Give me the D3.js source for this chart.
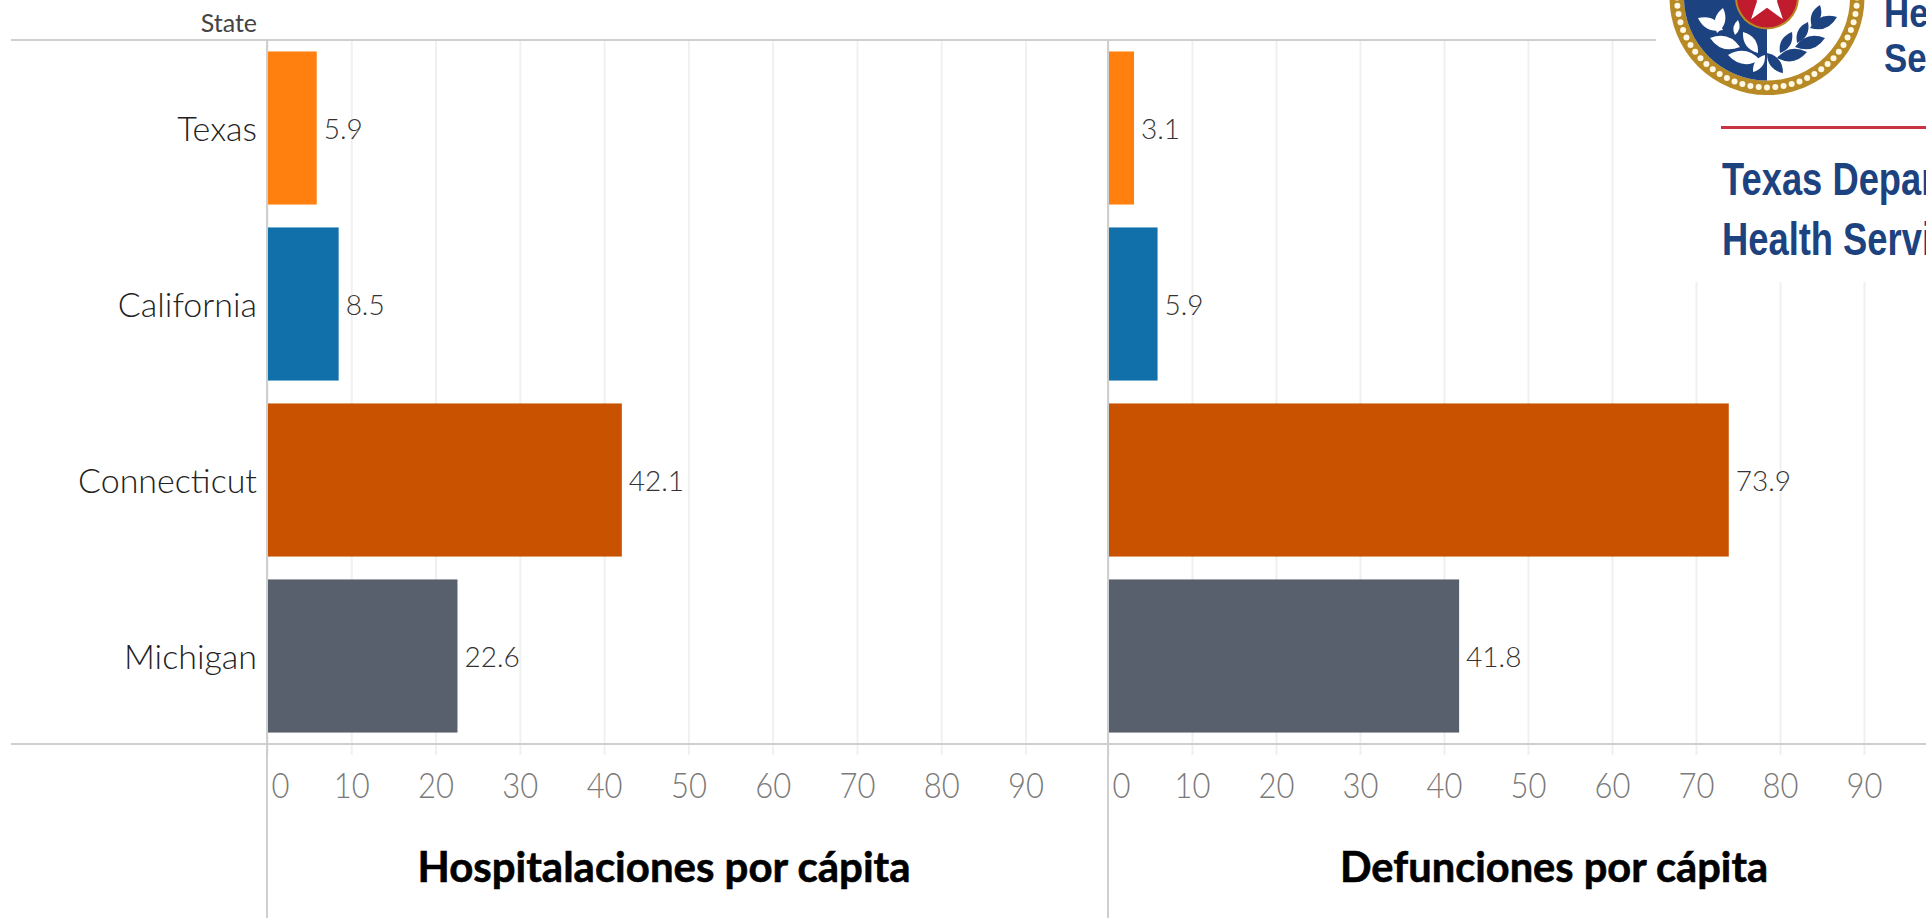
<!DOCTYPE html>
<html>
<head>
<meta charset="utf-8">
<script src="https://cdn.jsdelivr.net/npm/d3@7"></script>
<style>
  html, body { margin: 0; padding: 0; background: #fff; overflow: hidden; }
  svg { display: block; }
</style>
</head>
<body>
<div id="chart"></div>
<script>
const states = ['Texas', 'California', 'Connecticut', 'Michigan'];
const hospitalizations = [5.9, 8.5, 42.1, 22.6];
const deaths = [3.1, 5.9, 73.9, 41.8];
const stateColors = ['#ff800e', '#1170aa', '#c85200', '#57606c'];
const tickValues = [0, 10, 20, 30, 40, 50, 60, 70, 80, 90];

const width = 1926;
const height = 918;
const rowTop = 40;
const rowBottom = 744;
const lineColor = '#cfcfcf';
const lightFont = 'Lato, Roboto, sans-serif';

const svg = d3.select('#chart').append('svg')
  .attr('width', width)
  .attr('height', height);

const y = d3.scaleBand()
  .domain(states)
  .range([rowTop, rowBottom])
  .paddingInner(0.13)
  .paddingOuter(0.065);

// one pane per measure
const panes = [
  { values: hospitalizations, range: [267, 1025.5], title: 'Hospitalaciones por cápita', titleX: 664, titleWidth: 493 },
  { values: deaths, range: [1108, 1864], title: 'Defunciones por cápita', titleX: 1554, titleWidth: 428 }
];

panes.forEach(pane => {
  const x = d3.scaleLinear().domain([0, 90]).range(pane.range);
  const g = svg.append('g');

  // gridlines and tick labels
  const axis = g.append('g')
    .attr('transform', `translate(0,755)`)
    .call(d3.axisBottom(x).tickValues(tickValues).tickSize(-(755 - rowTop)));
  axis.select('.domain').remove();
  axis.selectAll('line')
    .attr('stroke', '#f0f0f0')
    .attr('stroke-width', 2);
  // tick digits in the reference are stretched upwards
  axis.selectAll('text')
    .attr('fill', '#7a7a7a')
    .style('font', `300 31px ${lightFont}`)
    .attr('transform', 'scale(1,1.15)')
    .attr('y', 37)
    .attr('dy', 0)
    .attr('dx', d => d === 0 ? 13 : 0);

  // zero line runs down to the page bottom
  g.append('line')
    .attr('x1', x(0)).attr('x2', x(0))
    .attr('y1', rowTop).attr('y2', height)
    .attr('stroke', lineColor)
    .attr('stroke-width', 2);

  // bars
  g.selectAll('.bar')
    .data(pane.values)
    .enter().append('rect')
    .attr('class', 'bar')
    .attr('x', x(0) + 1)
    .attr('y', (d, i) => y(states[i]))
    .attr('width', d => x(d) - x(0) - 1)
    .attr('height', y.bandwidth())
    .attr('fill', (d, i) => stateColors[i]);

  // value labels
  g.selectAll('.value')
    .data(pane.values)
    .enter().append('text')
    .attr('class', 'value')
    .attr('x', d => x(d) + 7)
    .attr('y', (d, i) => y(states[i]) + y.bandwidth() / 2 + 1)
    .attr('dy', '0.36em')
    .attr('fill', '#333')
    .style('font', `300 28px ${lightFont}`)
    .text(d => d.toFixed(1));

  // pane title
  g.append('text')
    .attr('x', pane.titleX)
    .attr('y', 882)
    .attr('text-anchor', 'middle')
    .attr('textLength', pane.titleWidth)
    .attr('lengthAdjust', 'spacingAndGlyphs')
    .attr('fill', '#000')
    .attr('stroke', '#000')
    .attr('stroke-width', 0.6)
    .style('font', '700 42px Lato, sans-serif')
    .text(pane.title);
});

// state labels
svg.append('g').selectAll('text')
  .data(states)
  .enter().append('text')
  .attr('x', 257)
  .attr('y', d => y(d) + y.bandwidth() / 2 + 1)
  .attr('dy', '0.36em')
  .attr('text-anchor', 'end')
  .attr('fill', '#222')
  .style('font', `300 34px ${lightFont}`)
  .text(d => d);

svg.append('text')
  .attr('x', 257)
  .attr('y', 32)
  .attr('text-anchor', 'end')
  .attr('fill', '#444')
  .style('font', `400 25px ${lightFont}`)
  .text('State');

// header and footer rules
svg.append('line')
  .attr('x1', 11).attr('x2', 1656)
  .attr('y1', rowTop).attr('y2', rowTop)
  .attr('stroke', lineColor).attr('stroke-width', 2);
svg.append('line')
  .attr('x1', 11).attr('x2', width)
  .attr('y1', rowBottom).attr('y2', rowBottom)
  .attr('stroke', lineColor).attr('stroke-width', 2);

/* logo pasted over the top right corner */
const logo = svg.append('g');
logo.append('rect')
  .attr('x', 1657).attr('y', 0)
  .attr('width', width - 1657).attr('height', 282)
  .attr('fill', '#fff');

const seal = { x: 1767, y: -2.5 };
const navy = '#1d4280';
const gold = '#b88a25';

logo.append('circle').attr('cx', seal.x).attr('cy', seal.y).attr('r', 97.5).attr('fill', gold);
logo.append('circle').attr('cx', seal.x).attr('cy', seal.y).attr('r', 83).attr('fill', '#fff');

// blue left half of the inner disc
logo.append('path')
  .attr('transform', `translate(${seal.x},${seal.y})`)
  .attr('d', d3.arc()({ innerRadius: 0, outerRadius: 83, startAngle: Math.PI, endAngle: 2 * Math.PI }))
  .attr('fill', navy);

// bead ring
logo.selectAll('.bead')
  .data(d3.range(0, 68))
  .enter().append('circle')
  .attr('class', 'bead')
  .attr('cx', d => seal.x + 90 * Math.cos(d * 2 * Math.PI / 68))
  .attr('cy', d => seal.y + 90 * Math.sin(d * 2 * Math.PI / 68))
  .attr('r', 3)
  .attr('fill', '#fff8e6');

// laurel leaves, as [x1, y1, x2, y2] tip to tip
const leftLeaves = [[1723, 30, 1698, 18], [1717, 33, 1723, 8], [1740, 47, 1710, 38], [1735, 35, 1738, 20],
  [1760, 60, 1728, 55], [1758, 53, 1743, 32], [1765, 55, 1753, 72]];
const rightLeaves = [[1767, 53, 1783, 73], [1777, 58, 1807, 52], [1780, 53, 1792, 32], [1795, 47, 1825, 38],
  [1797, 43, 1808, 22], [1810, 28, 1837, 17], [1812, 27, 1820, 5]];
const leafPath = ([x1, y1, x2, y2]) => {
  const mx = (x1 + x2) / 2, my = (y1 + y2) / 2;
  const nx = -(y2 - y1) * 0.4, ny = (x2 - x1) * 0.4;
  return `M${x1},${y1}Q${mx + nx},${my + ny} ${x2},${y2}Q${mx - nx},${my - ny} ${x1},${y1}Z`;
};
logo.selectAll('.leaf-left').data(leftLeaves).enter().append('path')
  .attr('d', leafPath).attr('fill', '#fff');
logo.selectAll('.leaf-right').data(rightLeaves).enter().append('path')
  .attr('d', leafPath).attr('fill', navy);

// red centre with star
logo.append('circle').attr('cx', seal.x).attr('cy', seal.y).attr('r', 32).attr('fill', gold);
logo.append('circle').attr('cx', seal.x).attr('cy', seal.y).attr('r', 30).attr('fill', '#c01c2e');
logo.append('path')
  .attr('transform', `translate(${seal.x},${seal.y})`)
  .attr('d', d3.symbol(d3.symbolStar, 820)())
  .attr('fill', '#fff');

// agency name, squeezed like the condensed face and cut by the page edge
const logoText = [
  { x: 1884, y: 27, size: 41, squeeze: 0.85, text: 'Health' },
  { x: 1884, y: 72, size: 41, squeeze: 0.85, text: 'Services' },
  { x: 1722, y: 195, size: 46, squeeze: 0.79, text: 'Texas Department' },
  { x: 1722, y: 255, size: 46, squeeze: 0.79, text: 'Health Services' }
];
logo.selectAll('.logo-text').data(logoText).enter().append('text')
  .attr('transform', d => `translate(${d.x},${d.y}) scale(${d.squeeze},1)`)
  .attr('fill', navy)
  .style('font', d => `700 ${d.size}px "Liberation Sans", sans-serif`)
  .text(d => d.text);

logo.append('line')
  .attr('x1', 1721).attr('x2', width)
  .attr('y1', 127.5).attr('y2', 127.5)
  .attr('stroke', '#c9353f').attr('stroke-width', 3);
</script>
</body>
</html>
